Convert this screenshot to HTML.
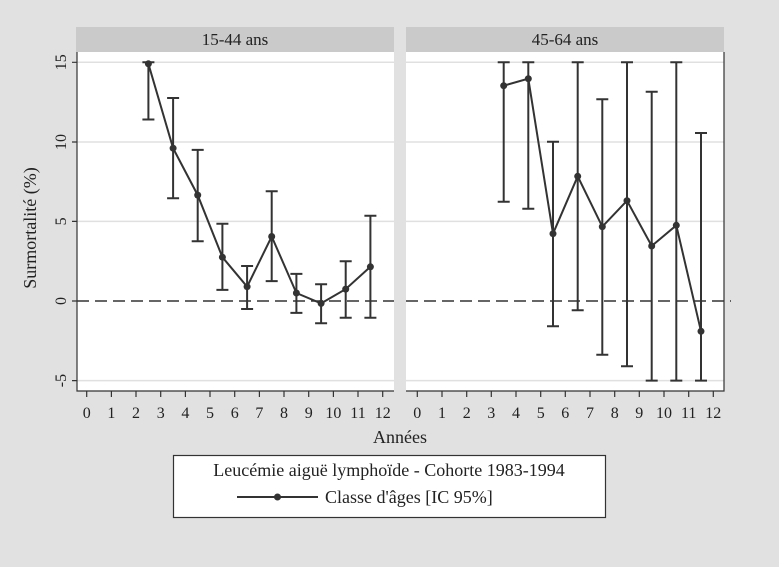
<!DOCTYPE html><html><head><style>body{margin:0;background:#e1e1e1}svg{display:block}</style></head><body>
<svg width="779" height="567" viewBox="0 0 779 567" xmlns="http://www.w3.org/2000/svg" font-family="Liberation Serif, serif" fill="#222">
<rect width="779" height="567" fill="#e1e1e1"/>
<rect x="76" y="27" width="318" height="25" fill="#cacaca"/>
<rect x="406" y="27" width="318" height="25" fill="#cacaca"/>
<text x="235" y="45" font-size="17" text-anchor="middle">15-44 ans</text>
<text x="565" y="45" font-size="17" text-anchor="middle">45-64 ans</text>
<rect x="77" y="52" width="317" height="339" fill="#fff"/>
<rect x="406" y="52" width="318" height="339" fill="#fff"/>
<g stroke="#e0e0e0" stroke-width="1.5">
<path d="M77 62.3H394M77 142H394M77 221.4H394M77 380.6H394M406 62.3H724M406 142H724M406 221.4H724M406 380.6H724"/>
</g>
<g stroke="#333" stroke-width="1.2" fill="none">
<path d="M77 52V391H394M406 391H724V52"/>
<path d="M72 62.3H77M72 142H77M72 221.4H77M72 301H77M72 380.6H77"/>
<path d="M86.7 391v6M111.4 391v6M136 391v6M160.7 391v6M185.4 391v6M210 391v6M234.7 391v6M259.4 391v6M284 391v6M308.7 391v6M333.4 391v6M358 391v6M382.7 391v6"/>
<path d="M417.3 391v6M442 391v6M466.7 391v6M491.3 391v6M516 391v6M540.7 391v6M565.3 391v6M590 391v6M614.7 391v6M639.3 391v6M664 391v6M688.7 391v6M713.3 391v6"/>
</g>
<path d="M77 301H394M406 301H731" stroke="#333" stroke-width="1.6" stroke-dasharray="12,6" fill="none"/>
<g font-size="16" text-anchor="middle">
<text transform="translate(66,62.3) rotate(-90)">15</text>
<text transform="translate(66,142) rotate(-90)">10</text>
<text transform="translate(66,221.4) rotate(-90)">5</text>
<text transform="translate(66,301) rotate(-90)">0</text>
<text transform="translate(66,380.6) rotate(-90)">-5</text>
<text transform="translate(36,228) rotate(-90)" font-size="18">Surmortalité (%)</text>
</g>
<g font-size="16" text-anchor="middle">
<text x="86.7" y="418">0</text><text x="111.4" y="418">1</text><text x="136" y="418">2</text><text x="160.7" y="418">3</text><text x="185.4" y="418">4</text><text x="210" y="418">5</text><text x="234.7" y="418">6</text><text x="259.4" y="418">7</text><text x="284" y="418">8</text><text x="308.7" y="418">9</text><text x="333.4" y="418">10</text><text x="358" y="418">11</text><text x="382.7" y="418">12</text>
<text x="417.3" y="418">0</text><text x="442" y="418">1</text><text x="466.7" y="418">2</text><text x="491.3" y="418">3</text><text x="516" y="418">4</text><text x="540.7" y="418">5</text><text x="565.3" y="418">6</text><text x="590" y="418">7</text><text x="614.7" y="418">8</text><text x="639.3" y="418">9</text><text x="664" y="418">10</text><text x="688.7" y="418">11</text><text x="713.3" y="418">12</text>
<text x="400" y="443" font-size="18">Années</text>
</g>
<g stroke="#333" stroke-width="2" fill="none">
<path d="M148.4 62.3V119.5M142.4 62.3h12M142.4 119.5h12
M173.1 98V198.3M167.1 98h12M167.1 198.3h12
M197.7 149.9V241.3M191.7 149.9h12M191.7 241.3h12
M222.4 223.7V289.9M216.4 223.7h12M216.4 289.9h12
M247.1 266V309M241.1 266h12M241.1 309h12
M271.7 191.2V281.1M265.7 191.2h12M265.7 281.1h12
M296.4 273.9V312.9M290.4 273.9h12M290.4 312.9h12
M321.1 284.3V323.3M315.1 284.3h12M315.1 323.3h12
M345.7 261.2V317.7M339.7 261.2h12M339.7 317.7h12
M370.4 215.8V317.7M364.4 215.8h12M364.4 317.7h12"/>
<path d="M148.4 63.8L173.1 148.2L197.7 195.1L222.4 257.2L247.1 286.7L271.7 236.5L296.4 293L321.1 303.4L345.7 289.1L370.4 266.8"/>
<path d="M503.7 62.3V201.7M497.7 62.3h12M497.7 201.7h12
M528.3 62.3V208.7M522.3 62.3h12M522.3 208.7h12
M553 141.7V326.3M547 141.7h12M547 326.3h12
M577.7 62.3V310.3M571.7 62.3h12M571.7 310.3h12
M602.3 99.3V354.7M596.3 99.3h12M596.3 354.7h12
M627 62.3V366.3M621 62.3h12M621 366.3h12
M651.7 91.7V380.6M645.7 91.7h12M645.7 380.6h12
M676.3 62.3V380.6M670.3 62.3h12M670.3 380.6h12
M701 133V380.6M695 133h12M695 380.6h12"/>
<path d="M503.7 85.7L528.3 78.7L553 233.7L577.7 176.3L602.3 226.7L627 200.7L651.7 246L676.3 225.3L701 331.3"/>
</g>
<g fill="#333">
<circle cx="148.4" cy="63.8" r="3.5"/><circle cx="173.1" cy="148.2" r="3.5"/><circle cx="197.7" cy="195.1" r="3.5"/><circle cx="222.4" cy="257.2" r="3.5"/><circle cx="247.1" cy="286.7" r="3.5"/><circle cx="271.7" cy="236.5" r="3.5"/><circle cx="296.4" cy="293" r="3.5"/><circle cx="321.1" cy="303.4" r="3.5"/><circle cx="345.7" cy="289.1" r="3.5"/><circle cx="370.4" cy="266.8" r="3.5"/>
<circle cx="503.7" cy="85.7" r="3.5"/><circle cx="528.3" cy="78.7" r="3.5"/><circle cx="553" cy="233.7" r="3.5"/><circle cx="577.7" cy="176.3" r="3.5"/><circle cx="602.3" cy="226.7" r="3.5"/><circle cx="627" cy="200.7" r="3.5"/><circle cx="651.7" cy="246" r="3.5"/><circle cx="676.3" cy="225.3" r="3.5"/><circle cx="701" cy="331.3" r="3.5"/>
</g>
<rect x="173.5" y="455.5" width="432" height="62" fill="#fff" stroke="#333" stroke-width="1.2"/>
<text x="389" y="476" font-size="18" text-anchor="middle">Leucémie aiguë lymphoïde - Cohorte 1983-1994</text>
<path d="M237 497H318" stroke="#333" stroke-width="2"/>
<circle cx="277.5" cy="497" r="3.5" fill="#333"/>
<text x="325" y="503" font-size="18">Classe d'âges [IC 95%]</text>
</svg>
</body></html>
